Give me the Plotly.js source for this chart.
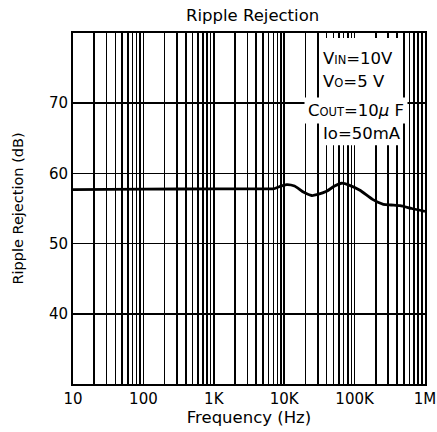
<!DOCTYPE html>
<html>
<head>
<meta charset="utf-8">
<script src="https://cdn.plot.ly/plotly-3.0.1.min.js"></script>
<style>html,body{margin:0;padding:0;background:#fff;}#chart{width:437px;height:432px;}</style>
</head>
<body>
<div id="chart"></div>
<script>
// Data
const frequencyHz = [10, 100, 1000, 5000, 7000, 8500, 10800, 14000, 19000, 24600, 30000, 40000, 52000, 65600, 85000, 119000, 180000, 256000, 330000, 442000, 650000, 1000000];
const rippleRejectionDb = [57.7, 57.75, 57.8, 57.8, 57.8, 58.1, 58.4, 58.2, 57.3, 56.85, 57.0, 57.45, 58.2, 58.6, 58.3, 57.6, 56.3, 55.6, 55.5, 55.4, 55.0, 54.6];
const decadeTicks = [10, 100, 1000, 10000, 100000, 1000000];
const decadeLabels = ["10", "100", "1K", "10K", "100K", "1M"];
const yTicks = [40, 50, 60, 70];

// grid values: every 1..9 multiple of each decade
const gridVals = [];
const gridText = [];
for (let d = 0; d < decadeTicks.length; d++) {
  const base = decadeTicks[d];
  const maxM = (d === decadeTicks.length - 1) ? 1 : 9;
  for (let m = 1; m <= maxM; m++) {
    gridVals.push(base * m);
    gridText.push(m === 1 ? decadeLabels[d] : "");
  }
}

const font = "DejaVu Sans, Liberation Sans, Arial, sans-serif";

const trace = {
  x: frequencyHz,
  y: rippleRejectionDb,
  type: "scatter",
  mode: "lines",
  line: {color: "#000", width: 2.8, shape: "spline", smoothing: 0.6},
  hoverinfo: "skip"
};

const layout = {
  width: 437, height: 432,
  margin: {l: 73, r: 12, t: 33, b: 48},
  paper_bgcolor: "#fff", plot_bgcolor: "#fff",
  showlegend: false,
  font: {family: font, color: "#000", size: 15},
  title: {text: "Ripple Rejection", font: {family: font, size: 16.5, color: "#000"}, x: 0.578, xanchor: "center", y: 0.978, yanchor: "top"},
  xaxis: {
    type: "log",
    range: [1, 6],
    tickvals: gridVals,
    ticktext: gridText,
    showgrid: true, gridcolor: "#000", gridwidth: 1.5,
    showline: true, linecolor: "#000", linewidth: 2, mirror: true,
    ticks: "", ticklen: 0,
    tickfont: {family: font, size: 15, color: "#000"},
    title: {text: "Frequency (Hz)", font: {family: font, size: 16.5, color: "#000"}, standoff: 3},
    zeroline: false
  },
  yaxis: {
    range: [30, 80],
    tickvals: yTicks,
    ticktext: yTicks.map(String),
    showgrid: true, gridcolor: "#000", gridwidth: 1.5,
    showline: true, linecolor: "#000", linewidth: 2, mirror: true,
    ticks: "", ticklen: 0,
    tickfont: {family: font, size: 15, color: "#000"},
    title: {text: "Ripple Rejection (dB)", font: {family: font, size: 14.5, color: "#000"}, standoff: 22},
    zeroline: false
  },
  shapes: [
    {type: "rect", xref: "paper", yref: "paper", x0: 0.702, x1: 0.925, y0: 0.68, y1: 0.986,
     fillcolor: "#fff", line: {width: 0}, layer: "above"}
  ],
  annotations: [
    {xref: "paper", yref: "paper", x: 0.705, y: 0.928, xanchor: "left", yanchor: "middle", showarrow: false,
     text: "V<span style='font-size:11.5px'>IN</span>=10V", font: {family: font, size: 16.5, color: "#000"}},
    {xref: "paper", yref: "paper", x: 0.705, y: 0.863, xanchor: "left", yanchor: "middle", showarrow: false,
     text: "V<span style='font-size:11.5px'>O</span>=5 V", font: {family: font, size: 16.5, color: "#000"}},
    {xref: "paper", yref: "paper", x: 0.655, y: 0.778, xanchor: "left", yanchor: "middle", showarrow: false,
     text: "C<span style='font-size:11.5px'>OUT</span>=10<i>µ</i> F", font: {family: font, size: 16.5, color: "#000"},
     bgcolor: "#fff", borderpad: 3},
    {xref: "paper", yref: "paper", x: 0.705, y: 0.715, xanchor: "left", yanchor: "middle", showarrow: false,
     text: "Io=50mA", font: {family: font, size: 16.5, color: "#000"}}
  ]
};

Plotly.newPlot("chart", [trace], layout, {staticPlot: true, displayModeBar: false});
</script>
</body>
</html>
